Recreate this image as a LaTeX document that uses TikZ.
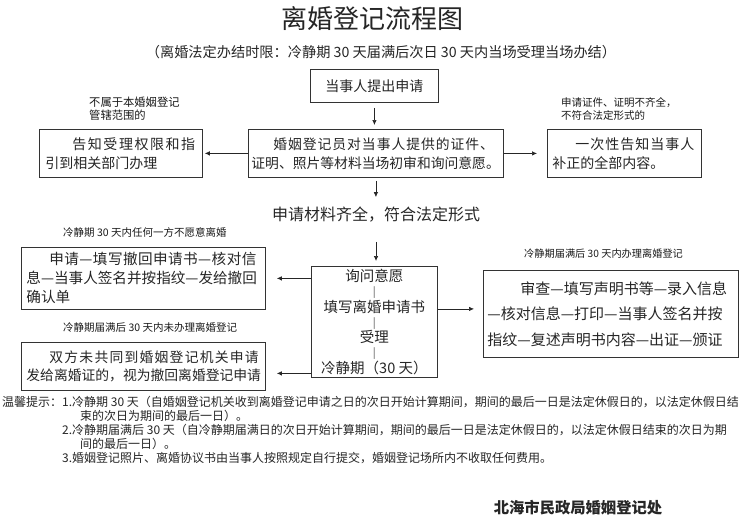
\documentclass[tikz,border=0pt]{standalone}
\usepackage{fontspec}
\setmainfont{Noto Sans CJK SC}
\newfontfamily\lsA[LetterSpace=7]{Noto Sans CJK SC}
\newfontfamily\lsB[LetterSpace=11]{Noto Sans CJK SC}
\newfontfamily\lsC[LetterSpace=3]{Noto Sans CJK SC}
\newfontfamily\lsD[LetterSpace=9]{Noto Sans CJK SC}
\usetikzlibrary{arrows.meta,calc}
\newcommand\setfs[2]{\fontsize{#1}{#2}\selectfont}
\newcommand\tickmark{{\setfs{10.5}{10.5}\color{black!70}|}}
\tikzset{
  box/.style={draw=black!80, line width=0.8pt, anchor=north west, align=left, inner ysep=0pt, text=black!85},
  arr/.style={-{Latex[length=5pt,width=4.5pt]}, line width=0.7pt, draw=black!85},
  lab/.style={anchor=west, inner sep=0pt, align=left, font=\setfs{10.5}{13}, text=black!90},
  plain/.style={inner sep=0pt, text=black!85}
}
\begin{document}
\begin{tikzpicture}[x=1pt,y=-1pt]
\useasboundingbox[fill=white] (0,0) rectangle (754,519);

% titles
\node[plain, font=\setfs{26}{30}] (title) at (372.5,18.5) {离婚登记流程图};
\node[plain, font=\setfs{14.2}{16}] (sub) at (381,52) {（离婚法定办结时限：冷静期 30 天届满后次日 30 天内当场受理当场办结）};

% top row
\node[box, inner xsep=0pt, align=center, minimum width=128pt, minimum height=33pt, font=\setfs{14}{16}] (top) at (310,69) {当事人提出申请};

\node[box, inner xsep=3pt, text width=249pt, minimum height=48pt, font=\setfs{13.8}{19}] (c1) at (248,129)
  {\mbox{\hspace*{22pt}{\lsA 婚姻登记员对当事人提供的证件、}}\\\mbox{证明、照片等材料当场初审和询问意愿。}};

\node[box, inner xsep=6pt, text width=151pt, minimum height=48pt, font=\setfs{14}{19}] (l1) at (39,129)
  {\mbox{\hspace*{27pt}{\lsB 告知受理权限和指}}\\\mbox{引到相关部门办理}};

\node[box, inner xsep=5pt, text width=144pt, minimum height=48pt, font=\setfs{14}{19}] (r1) at (547,129)
  {\mbox{\hspace*{23pt}{\lsA 一次性告知当事人}}\\\mbox{补正的全部内容。}};

\node[lab, font=\setfs{11.3}{13.5}] (lab1) at (89,108.5) {不属于本婚姻登记\\管辖范围的};
\node[lab] (lab2) at (561,108.5) {申请证件、证明不齐全，\\不符合法定形式的};

% middle statement
\node[plain, font=\setfs{16}{18}] (mid) at (376,215) {申请材料齐全，符合法定形式};

% lower row
\node[box, inner xsep=0pt, align=center, minimum width=126pt, minimum height=111pt, font=\setfs{14.5}{14.3}] (c2) at (311,266)
  {询问意愿\\\tickmark\\填写离婚申请书\\\tickmark\\受理\\\tickmark\\冷静期（30 天）};

\node[lab] (lab3) at (63,232) {冷静期 30 天内任何一方不愿意离婚};
\node[box, inner xsep=5pt, text width=234pt, minimum height=62pt, font=\setfs{14.6}{19}] (l2) at (21,247)
  {\mbox{\hspace*{23pt}{\lsC 申请—填写撤回申请书—核对信}}\\\mbox{息—当事人签名并按指纹—发给撤回}\\\mbox{确认单}};

\node[lab] (lab4) at (63,327) {冷静期届满后 30 天内未办理离婚登记};
\node[box, inner xsep=5pt, text width=234pt, minimum height=48pt, font=\setfs{13.8}{18.5}] (l3) at (21,342)
  {\mbox{\hspace*{23pt}{\lsD 双方未共同到婚姻登记机关申请}}\\\mbox{发给离婚证的，视为撤回离婚登记申请}};

\node[lab, font=\setfs{10.2}{13}] (lab5) at (524,254) {冷静期届满后 30 天内办理离婚登记};
\node[box, inner xsep=4pt, text width=247pt, minimum height=87pt, font=\setfs{15}{25.5}] (r2) at (483,270)
  {\mbox{\hspace*{33pt}审查—填写声明书等—录入信息}\\\mbox{—核对信息—打印—当事人签名并按}\\\mbox{指纹—复述声明书内容—出证—颁证}};

% connectors
\draw[arr, shorten <=5pt, shorten >=4pt] (top.south) -- (top.south |- c1.north);
\draw[arr, shorten >=2pt] (c1.west) -- (l1.east);
\draw[arr, shorten >=10pt] (c1.east) -- (r1.west);
\draw[arr, shorten <=3pt, shorten >=10pt] (c1.south) -- (c1.south |- mid.north);
\draw[arr, shorten <=19pt, shorten >=5pt] (mid.south) -- (mid.south |- c2.north);
\draw[arr, shorten >=11pt] (c2.west |- l2.east) -- (l2.east);
\draw[arr, shorten >=11pt] ($(c2.west |- l3.east)+(0,7)$) -- ($(l3.east)+(0,7)$);
\draw[arr, shorten >=9pt] ($(c2.east |- r2.west)+(0,-5)$) -- ($(r2.west)+(0,-5)$);

% notes
\node[plain, anchor=north west, align=left, font=\setfs{12}{14}] (notes) at (2,396)
  {\mbox{温馨提示：1.冷静期 30 天（自婚姻登记机关收到离婚登记申请之日的次日开始计算期间，期间的最后一日是法定休假日的，以法定休假日结}\\
   \mbox{\hspace*{78pt}束的次日为期间的最后一日）。}\\
   \mbox{\hspace*{60pt}2.冷静期届满后 30 天（自冷静期届满日的次日开始计算期间，期间的最后一日是法定休假日的，以法定休假日结束的次日为期}\\
   \mbox{\hspace*{78pt}间的最后一日）。}\\
   \mbox{\hspace*{60pt}3.婚姻登记照片、离婚协议书由当事人按照规定自行提交，婚姻登记场所内不收取任何费用。}};

\node[plain, font=\setfs{15.3}{17}\bfseries] (sign) at (578,508) {北海市民政局婚姻登记处};
\end{tikzpicture}
\end{document}
